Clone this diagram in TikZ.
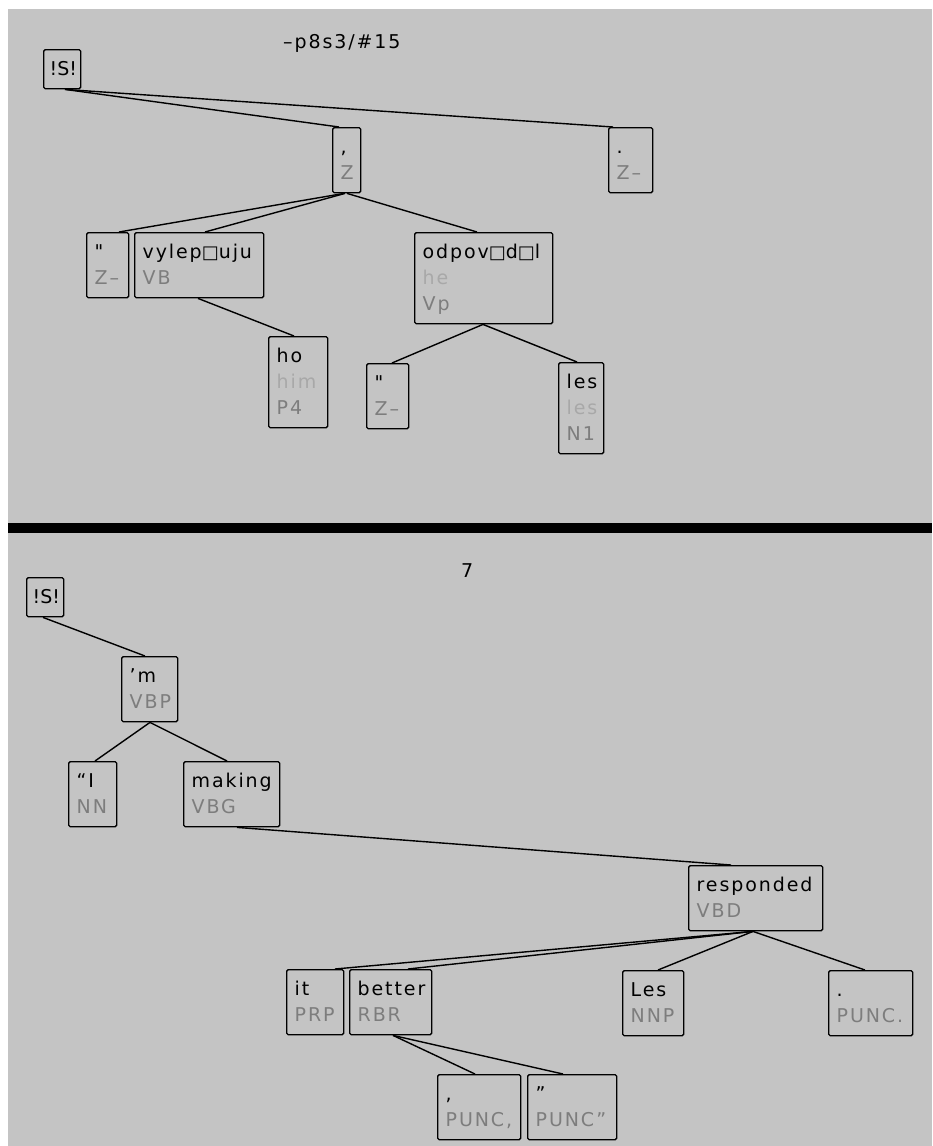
\documentclass[tikz,border=0pt]{standalone}
\usepackage{fontspec}
\newfontfamily\tf{DejaVu Sans}[LetterSpace=10]
\definecolor{panel}{RGB}{196,196,196}
\definecolor{tagc}{RGB}{125,125,125}
\definecolor{glossc}{RGB}{168,168,168}

% one line of a card: surface word, gloss, tag
\newcommand\wordln[1]{\hbox{\color{black}#1}}
\newcommand\glossln[1]{\hbox{\color{glossc}#1}}
\newcommand\tagln[1]{\hbox{\color{tagc}#1}}
% placeholder box for a letter the display font cannot show
\newcommand\nochar{{\fontsize{18pt}{18pt}\selectfont □}}
% card body: fixed inner width, lines 26pt apart, first baseline is the box baseline
\newcommand\card[2]{\hbox to #1{\vtop{\baselineskip=26pt\lineskiplimit=-\maxdimen\lineskip=0pt #2}\hss}}

\tikzset{
  tnode/.style={draw=black, line width=1.4pt, rounded corners=1.5pt, anchor=north west,
    inner xsep=8pt, inner ysep=0pt, text height=26pt,
    font=\tf\fontsize{19pt}{26pt}\selectfont},
  r1/.style={text depth=13pt},
  r2/.style={text depth=39pt},
  r3/.style={text depth=65pt},
  link/.style={draw=black, line width=1.4pt},
  ttl/.style={anchor=base west, inner sep=0pt, font=\tf\fontsize{19pt}{22pt}\selectfont}
}

\begin{document}
\begin{tikzpicture}[x=1pt,y=-1pt]
  \useasboundingbox (0,0) rectangle (932,1146);
  \fill[white] (0,0) rectangle (932,1146);
  \fill[panel] (8,9) rectangle (932,1146);
  \fill[black] (8,523) rectangle (932,533);

  % ---------- upper tree ----------
  \node[ttl] (title1) at (283,48) {–p8s3/\#15};

  \node[tnode, r1, inner xsep=6pt] (s1) at (43,49) {\addfontfeature{LetterSpace=0}\card{25pt}{\wordln{!S!}}};
  \node[tnode, r2] (zc) at (332,127) {\card{12pt}{\wordln{,}\tagln{Z}}};
  \node[tnode, r2] (zp) at (608,127) {\card{28pt}{\wordln{.}\tagln{Z–}}};
  \node[tnode, r2] (qa) at (86,232) {\card{26pt}{\wordln{"}\tagln{Z–}}};
  \node[tnode, r2] (vyl) at (134,232) {\card{113pt}{\wordln{vylep\nochar uju}\tagln{VB}}};
  \node[tnode, r3] (odp) at (414,232) {\card{122pt}{\wordln{odpov\nochar d\nochar l}\glossln{he}\tagln{Vp}}};
  \node[tnode, r3] (ho) at (268,336) {\card{43pt}{\wordln{ho}\glossln{him}\tagln{P4}}};
  \node[tnode, r2] (qb) at (366,363) {\card{26pt}{\wordln{"}\tagln{Z–}}};
  \node[tnode, r3] (les) at (558,362) {\card{29pt}{\wordln{les}\glossln{les}\tagln{N1}}};

  \draw[link] ([xshift=22pt]s1.south west) -- ([xshift=7pt]zc.north west);
  \draw[link] ([xshift=22pt]s1.south west) -- ([xshift=5pt]zp.north west);
  \draw[link] ([xshift=12pt]zc.south west) -- ([xshift=33pt]qa.north west);
  \draw[link] ([xshift=13pt]zc.south west) -- ([xshift=71pt]vyl.north west);
  \draw[link] ([xshift=15pt]zc.south west) -- ([xshift=63pt]odp.north west);
  \draw[link] ([xshift=64pt]vyl.south west) -- ([xshift=26pt]ho.north west);
  \draw[link] ([xshift=69pt]odp.south west) -- ([xshift=26pt]qb.north west);
  \draw[link] ([xshift=69pt]odp.south west) -- ([xshift=19pt]les.north west);

  % ---------- lower tree ----------
  \node[ttl] (title2) at (461,577) {7};

  \node[tnode, r1, inner xsep=6pt] (s2) at (26,577) {\addfontfeature{LetterSpace=0}\card{25pt}{\wordln{!S!}}};
  \node[tnode, r2] (am) at (121,656) {\card{40pt}{\wordln{’m}\tagln{VBP}}};
  \node[tnode, r2] (qi) at (68,761) {\card{32pt}{\wordln{“I}\tagln{NN}}};
  \node[tnode, r2] (mak) at (183,761) {\card{80pt}{\wordln{making}\tagln{VBG}}};
  \node[tnode, r2] (resp) at (688,865) {\card{118pt}{\wordln{responded}\tagln{VBD}}};
  \node[tnode, r2] (it) at (286,969) {\card{41pt}{\wordln{it}\tagln{PRP}}};
  \node[tnode, r2] (bet) at (349,969) {\card{66pt}{\wordln{better}\tagln{RBR}}};
  \node[tnode, r2] (lesb) at (622,970) {\card{45pt}{\wordln{Les}\tagln{NNP}}};
  \node[tnode, r2] (pdot) at (828,970) {\card{68pt}{\wordln{.}\tagln{PUNC.}}};
  \node[tnode, r2] (pcom) at (437,1074) {\card{67pt}{\wordln{,}\tagln{PUNC,}}};
  \node[tnode, r2] (pquo) at (527,1074) {\card{73pt}{\wordln{”}\tagln{PUNC”}}};

  \draw[link] ([xshift=17pt]s2.south west) -- ([xshift=24pt]am.north west);
  \draw[link] ([xshift=29pt]am.south west) -- ([xshift=27pt]qi.north west);
  \draw[link] ([xshift=29pt]am.south west) -- ([xshift=44pt]mak.north west);
  \draw[link] ([xshift=54pt]mak.south west) -- ([xshift=43pt]resp.north west);
  \draw[link] ([xshift=65pt]resp.south west) -- ([xshift=49pt]it.north west);
  \draw[link] ([xshift=65pt]resp.south west) -- ([xshift=59pt]bet.north west);
  \draw[link] ([xshift=65pt]resp.south west) -- ([xshift=36pt]lesb.north west);
  \draw[link] ([xshift=65pt]resp.south west) -- ([xshift=37pt]pdot.north west);
  \draw[link] ([xshift=44pt]bet.south west) -- ([xshift=38pt]pcom.north west);
  \draw[link] ([xshift=44pt]bet.south west) -- ([xshift=36pt]pquo.north west);
\end{tikzpicture}
\end{document}
